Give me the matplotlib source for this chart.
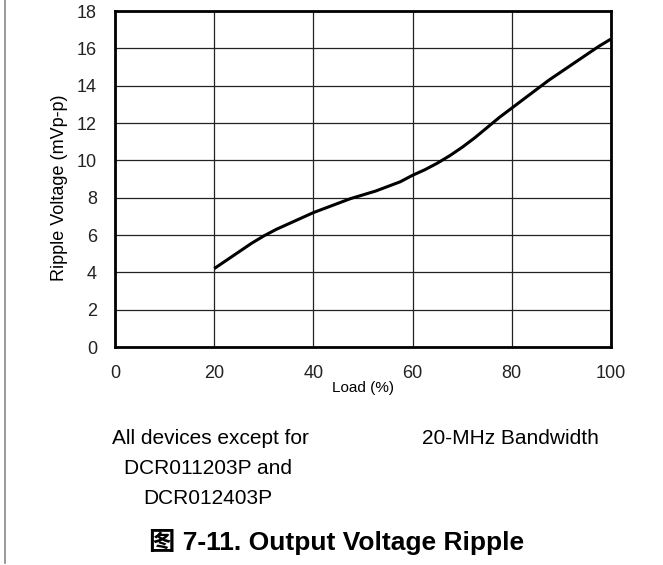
import matplotlib
matplotlib.use("Agg")
import matplotlib.pyplot as plt
from matplotlib.lines import Line2D

load = [20, 22.5, 25, 27.5, 30, 32.5, 35, 37.5, 40, 42.5, 45, 47.5, 50, 52.5, 55, 57.5,
        60, 62.5, 65, 67.5, 70, 72.5, 75, 77.5, 80, 82.5, 85, 87.5, 90, 92.5, 95, 97.5, 100]
ripple = [4.2, 4.65, 5.1, 5.55, 5.95, 6.3, 6.6, 6.9, 7.2, 7.45, 7.7, 7.95, 8.15, 8.35, 8.6, 8.85,
          9.2, 9.5, 9.85, 10.25, 10.7, 11.2, 11.75, 12.3, 12.8, 13.3, 13.8, 14.3, 14.75, 15.2, 15.65, 16.1, 16.5]
xticks = [0, 20, 40, 60, 80, 100]
yticks = [0, 2, 4, 6, 8, 10, 12, 14, 16, 18]

plt.rcParams['font.family'] = ['Liberation Sans', 'Noto Sans CJK SC', 'DejaVu Sans']

fig = plt.figure(figsize=(6.63, 5.65), dpi=100)
ax = fig.add_axes([115/663, 1-347/565, (611-115)/663, (347-11)/565])
ax.plot(load, ripple, color='black', lw=2.2, solid_capstyle='butt', solid_joinstyle='round')
ax.set_xlim(0, 100)
ax.set_ylim(0, 18)
ax.set_xticks(xticks)
ax.set_yticks(yticks)
ax.grid(True, color='#222222', lw=0.9)
ax.set_axisbelow(True)
ax.tick_params(length=0, labelsize=13, colors='#222222', pad=13)
for s in ax.spines.values():
    s.set_linewidth(2.0)
    s.set_color('black')
ax.set_xlabel('Load (%)', fontsize=11)
ax.set_ylabel('Ripple Voltage (mVp-p)', fontsize=13)
ax.xaxis.set_label_coords(0.5, -(381-347)/336)
ax.yaxis.set_label_coords(-(115-68)/496, (347-188)/336)

fig.text(210/663, 1-438/565, 'All devices except for', ha='center', va='center', fontsize=15)
fig.text(208/663, 1-468/565, 'DCR011203P and', ha='center', va='center', fontsize=15)
fig.text(208/663, 1-499/565, 'DCR012403P', ha='center', va='center', fontsize=15)
fig.text(510/663, 1-438/565, '20-MHz Bandwidth', ha='center', va='center', fontsize=15)
fig.text(337/663, 1-542/565, '图 7-11. Output Voltage Ripple', ha='center', va='center',
         fontsize=19, fontweight='bold', family=['Liberation Sans', 'Noto Sans CJK SC'])

fig.add_artist(Line2D([5/663, 5/663], [1-563/565, 1], color='#888888', lw=1.2, transform=fig.transFigure))

fig.savefig('out.png', dpi=100)
